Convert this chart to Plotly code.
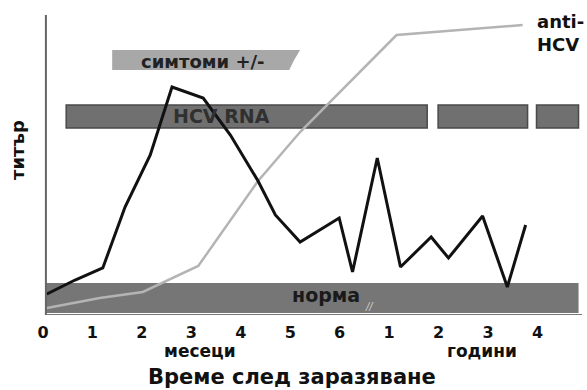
import plotly.graph_objects as go

# ---- data ----
tick_pos = [0, 1, 2, 3, 4, 5, 6, 7, 8, 9, 10]
tick_labels = ["0", "1", "2", "3", "4", "5", "6", "1", "2", "3", "4"]

rna_x = [0.08, 0.65, 1.21, 1.66, 2.17, 2.61, 3.24, 3.79, 4.35, 4.70, 5.20,
         5.99, 6.26, 6.76, 7.23, 7.85, 8.20, 8.89, 9.39, 9.76]
rna_y = [21, 35, 47, 108, 160, 228, 217, 180, 134, 100, 73,
         97, 43, 157, 48, 78, 57, 99, 28, 90]

anti_x = [0.08, 1.15, 2.02, 3.14, 4.35, 5.20, 7.15, 8.85, 9.70]
anti_y = [7, 17, 23, 49, 134, 183, 280, 287, 290]

# bars: (x0, x1, y0, y1)
symptoms_bar = (1.40, 5.20, 245, 265)
hcv_rna_bars = [(0.47, 7.77), (7.99, 9.80), (9.98, 10.83)]
hcv_rna_y = (187, 210)
norm_bar = (0.06, 10.83, 2, 32)

FONT = "DejaVu Sans"

fig = go.Figure()

fig.add_trace(go.Scatter(x=anti_x, y=anti_y, mode="lines",
                         line=dict(color="#b4b4b4", width=2.5), hoverinfo="skip"))
fig.add_trace(go.Scatter(x=rna_x, y=rna_y, mode="lines",
                         line=dict(color="#111111", width=3), hoverinfo="skip"))

shapes = []
shapes.append(dict(type="rect", x0=norm_bar[0], x1=norm_bar[1], y0=norm_bar[2], y1=norm_bar[3],
                   fillcolor="#767676", line=dict(width=0), layer="below"))
for x0, x1 in hcv_rna_bars:
    shapes.append(dict(type="rect", x0=x0, x1=x1, y0=hcv_rna_y[0], y1=hcv_rna_y[1],
                       fillcolor="#707070", line=dict(color="#4a4a4a", width=1.5), layer="below"))
sx0, sx1, sy0, sy1 = symptoms_bar
shapes.append(dict(type="path",
                   path=f"M {sx0},{sy0} L {sx1-0.22},{sy0} L {sx1-0.12},{(sy0+sy1)/2} L {sx1},{sy1} L {sx0},{sy1} Z",
                   fillcolor="#a8a8a8", line=dict(width=0), layer="below"))
shapes.append(dict(type="line", x0=0.06, x1=0.06, y0=0, y1=300,
                   line=dict(color="#666666", width=2), layer="above"))
shapes.append(dict(type="line", x0=0.06, x1=11.0, y0=0, y1=0,
                   line=dict(color="#777777", width=2), layer="above"))

dark = "#111111"
annotations = [
    dict(x=3.24, y=254, text="<b>симтоми +/-</b>", showarrow=False,
         font=dict(family=FONT, size=18, color="#222222")),
    dict(x=3.62, y=199, text="<b>HCV RNA</b>", showarrow=False,
         font=dict(family=FONT, size=19, color="#303030")),
    dict(x=5.72, y=20, text="<b>норма</b>", showarrow=False,
         font=dict(family=FONT, size=19, color="#1a1a1a")),
    dict(x=6.61, y=9, text="<i>//</i>", showarrow=False,
         font=dict(family=FONT, size=10, color="#d0d0d0")),
    dict(x=9.95, y=282, text="<b>anti-<br>HCV</b>", showarrow=False, xanchor="left", yanchor="middle",
         align="left", font=dict(family=FONT, size=18, color=dark)),
    dict(xref="paper", yref="paper", x=-0.0386, y=0.55, xanchor="center", yanchor="middle",
         text="<b>титър</b>", textangle=-90,
         showarrow=False, font=dict(family=FONT, size=18, color=dark)),
    dict(xref="x", yref="paper", x=3.17, y=-0.12, yanchor="middle", text="<b>месеци</b>", showarrow=False,
         font=dict(family=FONT, size=17, color=dark)),
    dict(xref="x", yref="paper", x=8.88, y=-0.12, yanchor="middle", text="<b>години</b>", showarrow=False,
         font=dict(family=FONT, size=17, color=dark)),
    dict(xref="x", yref="paper", x=5.04, y=-0.205, yanchor="middle", text="<b>Време след заразяване</b>",
         showarrow=False, font=dict(family=FONT, size=21, color=dark)),
]

fig.update_layout(
    width=587, height=390,
    margin=dict(l=38, r=5, t=15, b=75),
    paper_bgcolor="white", plot_bgcolor="white",
    showlegend=False,
    shapes=shapes, annotations=annotations,
    xaxis=dict(range=[-0.1, 10.9], tickmode="array", tickvals=tick_pos,
               ticktext=[f"<b>{t}</b>" for t in tick_labels],
               tickfont=dict(family=FONT, size=16, color=dark), showgrid=False, zeroline=False,
               showline=False, ticks="outside", ticklen=3, tickcolor="rgba(0,0,0,0)",
               fixedrange=True, automargin=False),
    yaxis=dict(range=[0, 300], showticklabels=False, showgrid=False, zeroline=False, showline=False,
               fixedrange=True, automargin=False),
)

fig.write_html("out.html", config={"displayModeBar": False},
               post_script="document.body.style.margin='0px';")
